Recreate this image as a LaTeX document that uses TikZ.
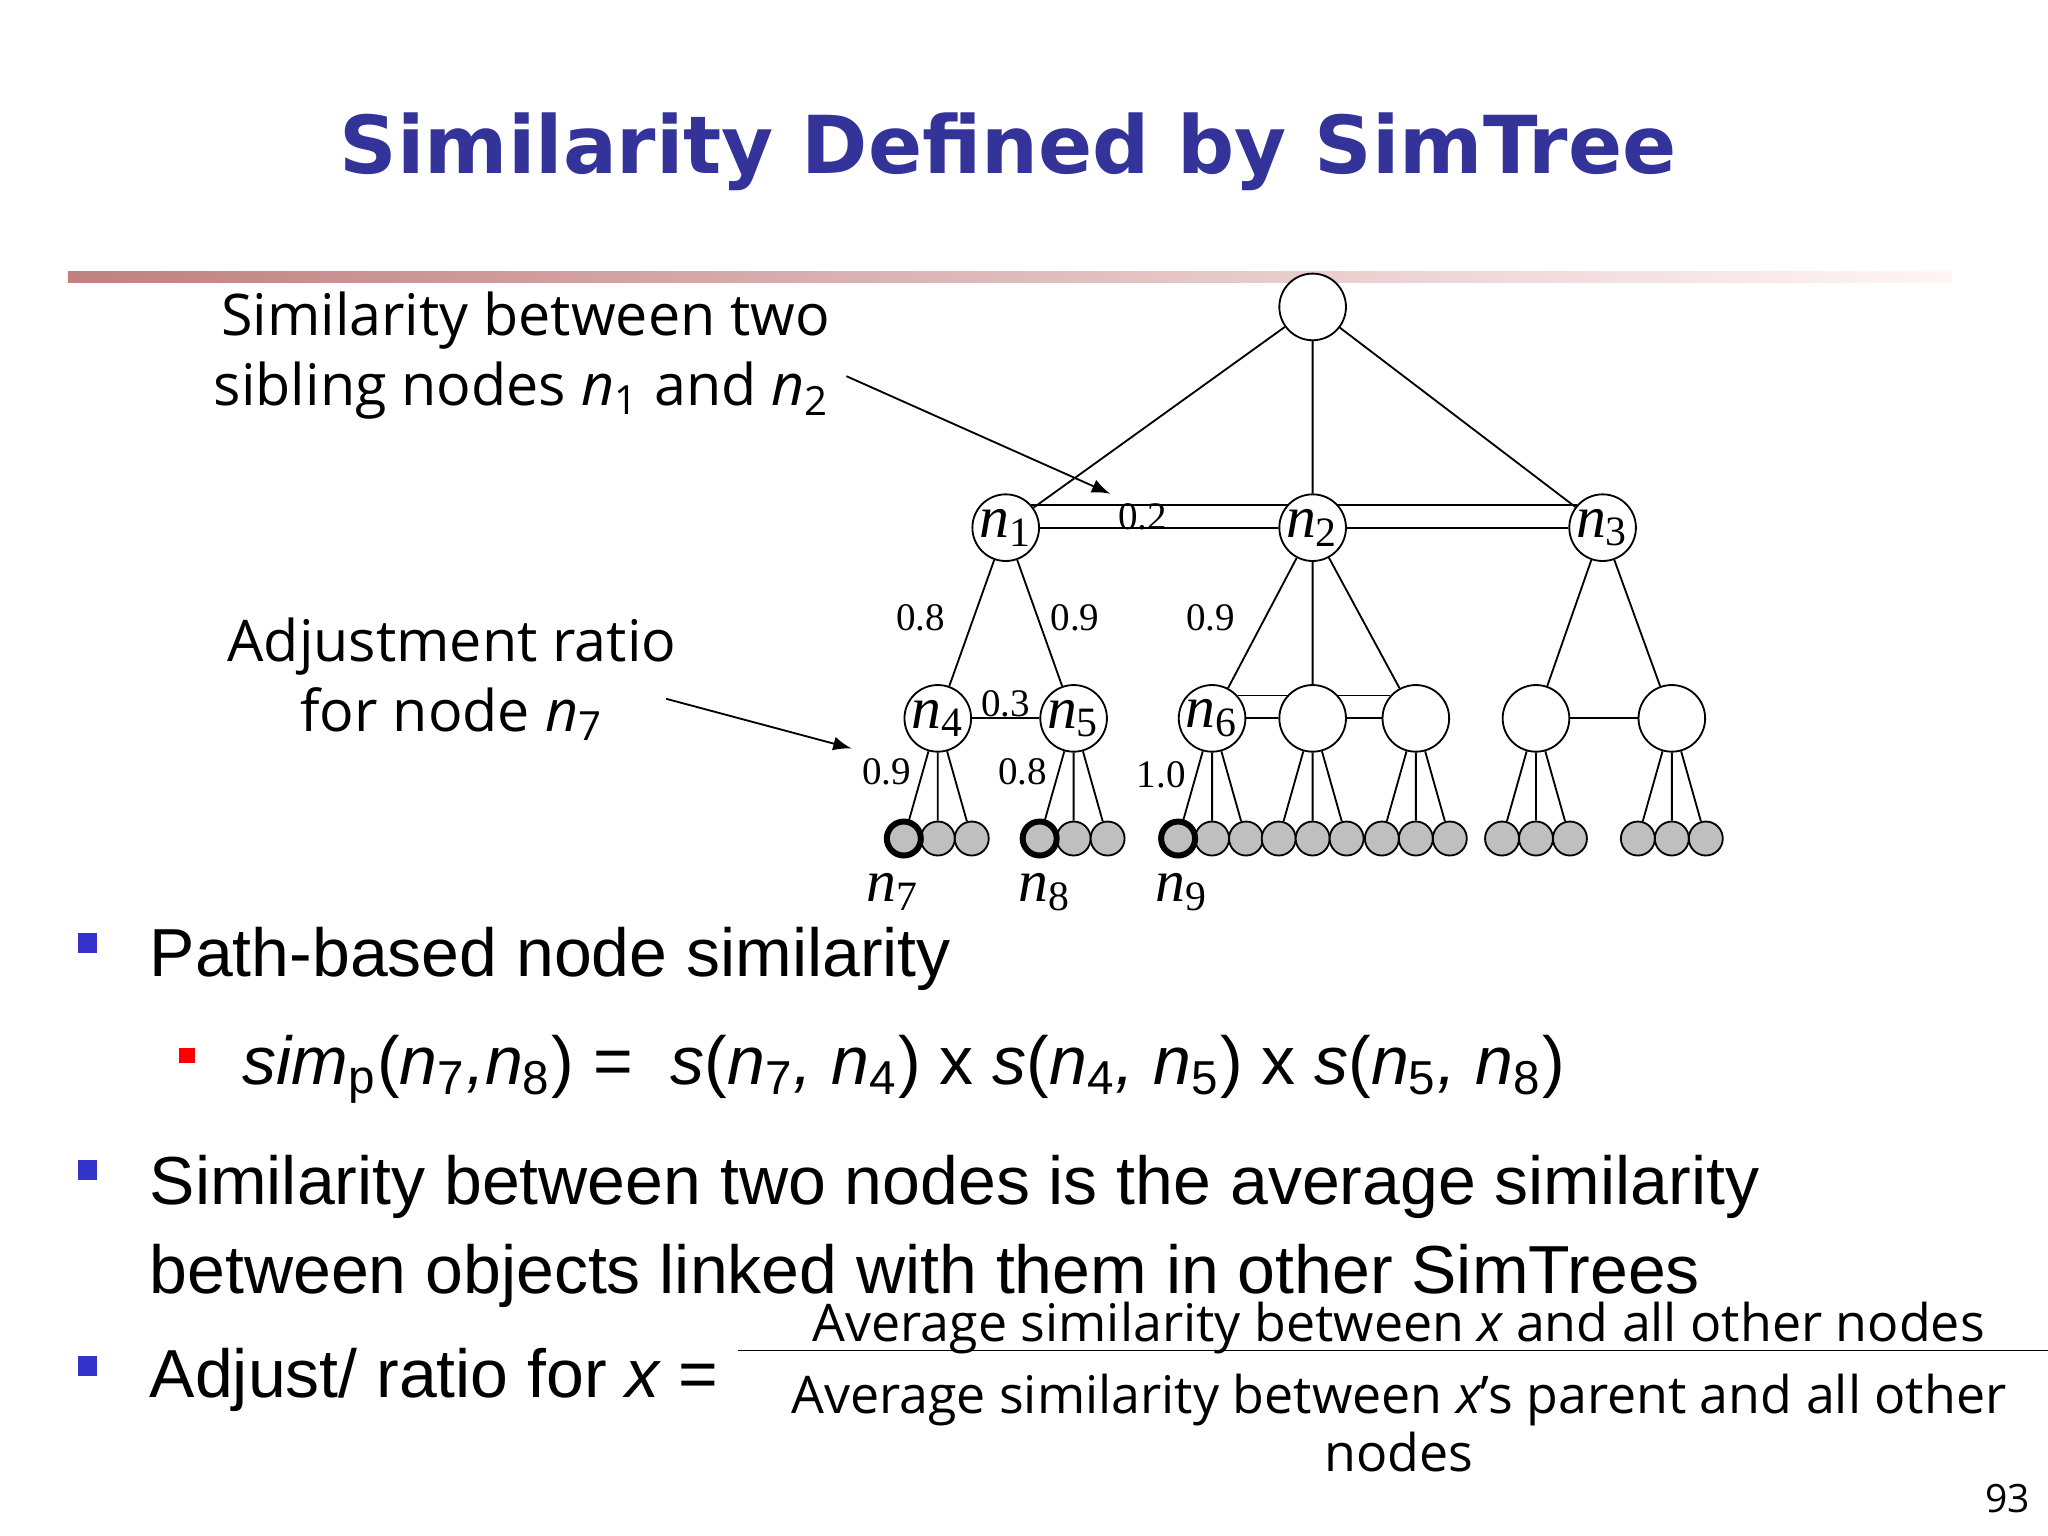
\documentclass[tikz,border=0pt]{standalone}
\usepackage{fontspec}
\usetikzlibrary{backgrounds}
\setmainfont{Liberation Sans}
\newfontfamily\notefont{Open Sans}
\newfontfamily\treefont{Liberation Serif}
\newfontfamily\titlefont{DejaVu Sans}
\definecolor{titleblue}{HTML}{333399}
\definecolor{bulletblue}{HTML}{3333CC}
\definecolor{rulerose}{HTML}{C08080}
\newcommand{\nlab}[1]{{\itshape n}\textsubscript{#1}}
\newcommand{\sub}[1]{\textsubscript{\upshape #1}}
\begin{document}
\begin{tikzpicture}[x=0.01cm,y=-0.01cm,
    inner/.style={draw,circle,fill=white,minimum size=0.51cm,inner sep=0pt,
        font=\treefont\fontsize{13}{13}\selectfont},
    leaf/.style={draw,circle,fill=black!25,minimum size=0.26cm,inner sep=0pt},
    picked/.style={leaf,line width=1.3pt},
    wt/.style={font=\treefont\fontsize{8.5}{10}\selectfont,inner sep=0pt},
    note/.style={font=\notefont\fontsize{12.5}{15.2}\selectfont,align=center},
    body/.style={font=\fontsize{14.8}{18}\selectfont,anchor=base west,inner sep=0pt},
    frac/.style={font=\notefont\fontsize{11.3}{13}\selectfont,inner sep=0pt,anchor=base},
    bullet/.style={fill=bulletblue,minimum size=0.15cm,inner sep=0pt}]
    \useasboundingbox (0,0) rectangle (1568,1176);

    % title and rule
    \node[font=\titlefont\bfseries\fontsize{17.4}{20}\selectfont,text=titleblue,anchor=base]
        (title) at (772,133) {Similarity Defined by SimTree};
    \shade[left color=rulerose,right color=pink!15] (52,208) rectangle (1494,216);

    % tree
    \node[inner] (root) at (1005,235) {};
    \node[inner] (n1) at (770,404) {\nlab{1}};
    \node[inner] (n2) at (1005,404) {\nlab{2}};
    \node[inner] (n3) at (1227,404) {\nlab{3}};
    \foreach \name/\x/\txt in {n4/718/\nlab{4},n5/822/\nlab{5},n6/928/\nlab{6},
        m2/1005/,m3/1084/,m4/1176/,m5/1280/}
        \node[inner] (\name) at (\x,550) {\txt};
    \foreach \p in {n4,n5,n6,m2,m3,m4,m5} {
        \path (\p) ++(-26,92) node[leaf] (\p-a) {}
              (\p) ++(0,92) node[leaf] (\p-b) {}
              (\p) ++(26,92) node[leaf] (\p-c) {};
        \draw (\p) -- (\p-a) (\p) -- (\p-b) (\p) -- (\p-c);
    }
    \foreach \p in {n4,n5,n6}
        \node[picked] at (\p-a) {};
    \draw (root) -- (n1) (root) -- (n2) (root) -- (n3);
    \draw (n1) -- (n4) (n1) -- (n5) (n2) -- (n6) (n2) -- (m2) (n2) -- (m3)
          (n3) -- (m4) (n3) -- (m5);
    \begin{pgfonlayer}{background}
        \draw (n1.42) -- (n3.138) (n6.42) -- (m3.138);
    \end{pgfonlayer}
    \draw (n1) -- (n2) -- (n3) (n6) -- (m2) -- (m3) (n4) -- (n5) (m4) -- (m5);

    % weights
    \node[wt] at (875,396) {0.2};
    \node[wt] at (705,473) {0.8};
    \node[wt] at (823,473) {0.9};
    \node[wt] at (927,473) {0.9};
    \node[wt] at (770,539) {0.3};
    \node[wt] at (679,591) {0.9};
    \node[wt] at (783,591) {0.8};
    \node[wt] at (889,593) {1.0};
    \node[font=\treefont\fontsize{13}{13}\selectfont] (n7) at (684,683) {\nlab{7}};
    \node[font=\treefont\fontsize{13}{13}\selectfont] (n8) at (800,683) {\nlab{8}};
    \node[font=\treefont\fontsize{13}{13}\selectfont] (n9) at (905,683) {\nlab{9}};

    % annotations
    \node[note,align=right,anchor=east] (sib) at (648,272)
        {Similarity between two\\sibling nodes \nlab{1} and \nlab{2}};
    \node[note] (adj) at (346,520) {Adjustment ratio\\for node \nlab{7}};
    \coordinate (sibtip) at (850,378);
    \coordinate (adjtip) at (652,573);
    \draw[-latex] (sib.east |- 0,288) -- (sibtip);
    \draw[-latex] (510,535) -- (adjtip);

    % bullets
    \node[bullet] (b1) at (67,722) {};
    \node[body] (t1) at (114,748) {Path-based node similarity};
    \node[fill=red,minimum size=0.12cm,inner sep=0pt] (b2) at (143,808) {};
    \node[body] (t2) at (185,830)
        {\itshape sim\sub{p}{\upshape (}n\sub{7},n\sub{8}{\upshape ) =\ \ }s{\upshape (}n\sub{7}, n\sub{4}{\upshape ) x }s{\upshape (}n\sub{4}, n\sub{5}{\upshape ) x }s{\upshape (}n\sub{5}, n\sub{8}{\upshape )}};
    \node[bullet] (b3) at (67,896) {};
    \node[body] (t3) at (114,922) {Similarity between two nodes is the average similarity};
    \node[body] (t4) at (114,990) {between objects linked with them in other SimTrees};
    \node[bullet] (b4) at (67,1046) {};
    \node[body] (t5) at (114,1070) {Adjust/ ratio for {\itshape x} =};

    % fraction
    \node[frac] (num) at (1071,1027) {Average similarity between {\itshape x} and all other nodes};
    \draw (565,1034) -- (1568,1034);
    \node[frac] (den1) at (1071,1082) {Average similarity between {\itshape x}’s parent and all other};
    \node[frac] (den2) at (1071,1127) {nodes};
    \node[frac,font=\notefont\fontsize{8.5}{10}\selectfont] (page) at (1537,1158) {93};
\end{tikzpicture}
\end{document}
